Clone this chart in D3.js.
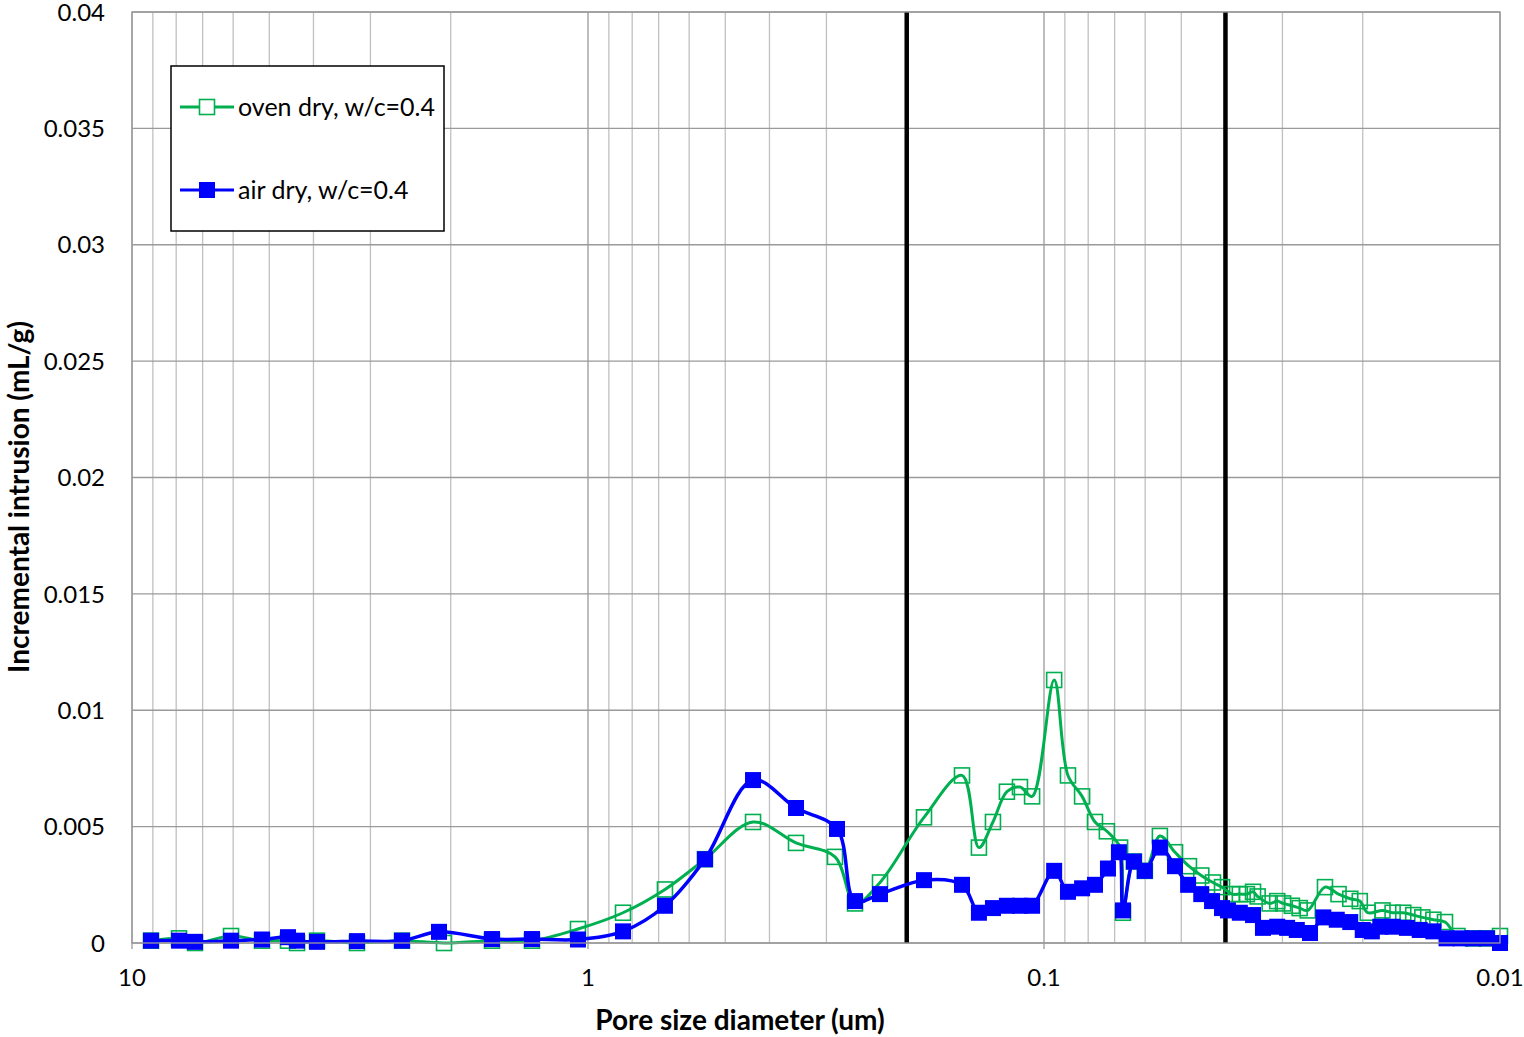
<!DOCTYPE html>
<html>
<head>
<meta charset="utf-8">
<script src="https://cdn.jsdelivr.net/npm/d3@7"></script>
<style>
  html, body { margin: 0; padding: 0; background: #fff; }
  svg { display: block; }
  text { font-family: Lato, "Open Sans", sans-serif; fill: #000; }
</style>
</head>
<body>
<svg id="chart" width="1524" height="1037"></svg>
<script>
// ---------- data ----------
const seriesNames = ["oven dry, w/c=0.4", "air dry, w/c=0.4"];

const ovenDiam = [9.085, 7.886, 7.275, 6.065, 5.187, 4.549, 4.346, 3.929, 3.211, 2.558, 2.069, 1.624, 1.327, 1.052,
  0.838, 0.678, 0.554, 0.4346, 0.3498, 0.2873, 0.2597, 0.2289, 0.1833, 0.1513, 0.1389, 0.1294, 0.1206, 0.1129, 0.1062,
  0.0950, 0.0886, 0.0825, 0.0773, 0.0728, 0.0681, 0.0671, 0.0635, 0.0601, 0.0557, 0.0516, 0.0481, 0.0452, 0.0426,
  0.0407, 0.0387, 0.0372, 0.0359, 0.0348, 0.0340, 0.0320, 0.0308, 0.0299, 0.0286, 0.0275, 0.0264,
  0.0242, 0.0226, 0.0213, 0.0203, 0.0195, 0.0181, 0.0172, 0.0163, 0.0155, 0.0148, 0.0140, 0.0132,
  0.0124, 0.01146, 0.01068, 0.0100];
const ovenVals = [0.0001, 0.0002, 0.0, 0.0003, 0.0001, 0.0001, 0.0, 0.0001, 0.0, 0.0001, 0.0, 0.0001, 0.0001, 0.0006,
  0.0013, 0.0023, 0.0036, 0.0052, 0.0043, 0.0037, 0.0017, 0.0026, 0.0054, 0.0072, 0.0041, 0.0052, 0.0065, 0.0067, 0.0063,
  0.0113, 0.0072, 0.0063, 0.0052, 0.0048, 0.0041, 0.0013, 0.0035, 0.0031, 0.0046, 0.0039, 0.0033, 0.0029, 0.0026,
  0.0024, 0.0021, 0.0021, 0.0021, 0.0022, 0.0020, 0.0017, 0.0018, 0.0017, 0.0016, 0.0015, 0.0014,
  0.0024, 0.0021, 0.0019, 0.0018, 0.0013, 0.0014, 0.0013, 0.0013, 0.0012, 0.0011, 0.0010, 0.0009,
  0.0003, 0.0002, 0.0002, 0.0003];

const airDiam = [9.085, 7.886, 7.275, 6.065, 5.187, 4.549, 4.346, 3.929, 3.211, 2.558, 2.122, 1.624, 1.327, 1.052,
  0.838, 0.678, 0.554, 0.4346, 0.3498, 0.2844, 0.2597, 0.2289, 0.1833, 0.1513, 0.1389, 0.1294, 0.1206, 0.1129, 0.1062,
  0.0950, 0.0886, 0.0825, 0.0773, 0.0724, 0.0685, 0.0671, 0.0635, 0.0601, 0.0557, 0.0516, 0.0483, 0.0452, 0.0428,
  0.0407, 0.0395, 0.0372, 0.0348, 0.0331, 0.0308, 0.0293, 0.0279, 0.0261,
  0.0244, 0.0228, 0.0213, 0.0200, 0.0191, 0.0183, 0.0172, 0.0160, 0.0150, 0.0140, 0.0131,
  0.0122, 0.01146, 0.01068, 0.0100];
const airVals = [0.0001, 0.0001, 0.00005, 0.0001, 0.00015, 0.00025, 0.0001, 0.00005, 0.00008, 0.0001, 0.00048, 0.00017, 0.00017, 0.00015,
  0.0005, 0.0016, 0.0036, 0.0070, 0.0058, 0.0049, 0.0018, 0.0021, 0.0027, 0.0025, 0.0013, 0.0015, 0.0016, 0.0016, 0.0016,
  0.0031, 0.0022, 0.00235, 0.0025, 0.0032, 0.0039, 0.0014, 0.0035, 0.0031, 0.0041, 0.0033, 0.0025, 0.0021, 0.0018,
  0.0015, 0.0014, 0.0013, 0.0012, 0.00065, 0.0007, 0.00065, 0.00056, 0.00043,
  0.0011, 0.0010, 0.0009, 0.00056, 0.0005, 0.0007, 0.0007, 0.00065, 0.00056, 0.0005, 0.0002,
  0.0002, 0.0002, 0.0002, 0.0000];

const yTicks = [0, 0.005, 0.01, 0.015, 0.02, 0.025, 0.03, 0.035, 0.04];
const yTickLabels = ["0", "0.005", "0.01", "0.015", "0.02", "0.025", "0.03", "0.035", "0.04"];
const xTicks = [10, 1, 0.1, 0.01];
const xTickLabels = ["10", "1", "0.1", "0.01"];
const markerLines = [0.2, 0.04];

// ---------- layout ----------
const svg = d3.select("#chart");
const L = 132, R = 1500, T = 12, B = 943;
const x = d3.scaleLog().domain([10, 0.01]).range([L, R]);
const y = d3.scaleLinear().domain([0, 0.04]).range([B, T]);

const green = "#00B050", blue = "#0000FF";

// minor vertical gridlines
const minor = [];
[1, 0.1, 0.01].forEach(dec => { for (let k = 2; k <= 9; k++) minor.push(dec * k); });
svg.append("g").selectAll("line").data(minor).join("line")
  .attr("x1", d => x(d)).attr("x2", d => x(d)).attr("y1", T).attr("y2", B)
  .attr("stroke", "#C0C0C0").attr("stroke-width", 1.3);

// major horizontal gridlines
svg.append("g").selectAll("line").data(yTicks).join("line")
  .attr("x1", L).attr("x2", R).attr("y1", d => y(d)).attr("y2", d => y(d))
  .attr("stroke", "#9A9A9A").attr("stroke-width", 1.3);

// major vertical gridlines
svg.append("g").selectAll("line").data(xTicks).join("line")
  .attr("x1", d => x(d)).attr("x2", d => x(d)).attr("y1", T).attr("y2", B + 6)
  .attr("stroke", "#9A9A9A").attr("stroke-width", 1.3);

// y tick labels
svg.append("g").selectAll("text").data(yTicks).join("text")
  .attr("x", 105).attr("y", d => y(d)).attr("dy", "0.36em")
  .attr("text-anchor", "end").attr("font-size", 24)
  .text((d, i) => yTickLabels[i]);

// x tick labels
svg.append("g").selectAll("text").data(xTicks).join("text")
  .attr("x", d => x(d)).attr("y", 986)
  .attr("text-anchor", "middle").attr("font-size", 24)
  .text((d, i) => xTickLabels[i]);

// axis titles
svg.append("text").attr("x", 740).attr("y", 1030).attr("text-anchor", "middle")
  .attr("font-size", 28).attr("font-weight", "bold").text("Pore size diameter (um)");
svg.append("text").attr("transform", "translate(29,497) rotate(-90)").attr("text-anchor", "middle")
  .attr("font-size", 28).attr("font-weight", "bold").text("Incremental intrusion (mL/g)");

// vertical black lines
svg.append("g").selectAll("line").data(markerLines).join("line")
  .attr("x1", d => x(d)).attr("x2", d => x(d)).attr("y1", T).attr("y2", B)
  .attr("stroke", "#000").attr("stroke-width", 4.5);

// series
const line = d3.line().x(d => x(d[0])).y(d => y(d[1])).curve(d3.curveCatmullRom.alpha(0.5));
const oven = ovenDiam.map((d, i) => [d, ovenVals[i]]);
const air = airDiam.map((d, i) => [d, airVals[i]]);

svg.append("path").datum(oven).attr("d", line).attr("fill", "none")
  .attr("stroke", green).attr("stroke-width", 3);
svg.append("g").selectAll("rect").data(oven).join("rect")
  .attr("x", d => x(d[0]) - 7.5).attr("y", d => y(d[1]) - 7.5)
  .attr("width", 15).attr("height", 15)
  .attr("fill", "none").attr("stroke", green).attr("stroke-width", 1.6);

svg.append("path").datum(air).attr("d", line).attr("fill", "none")
  .attr("stroke", blue).attr("stroke-width", 3.5);
svg.append("g").selectAll("rect").data(air).join("rect")
  .attr("x", d => x(d[0]) - 8).attr("y", d => y(d[1]) - 8)
  .attr("width", 16).attr("height", 16)
  .attr("fill", blue).attr("stroke", "none");

// plot border
svg.append("rect").attr("x", L).attr("y", T).attr("width", R - L).attr("height", B - T)
  .attr("fill", "none").attr("stroke", "#9A9A9A").attr("stroke-width", 1.3);

// legend
const lg = svg.append("g");
lg.append("rect").attr("x", 171).attr("y", 66).attr("width", 273).attr("height", 165)
  .attr("fill", "#fff").attr("stroke", "#000").attr("stroke-width", 1.5);
const legendY = [107, 190];
const legendColors = [green, blue];
seriesNames.forEach((name, i) => {
  const ly = legendY[i];
  lg.append("line").attr("x1", 180).attr("x2", 234).attr("y1", ly).attr("y2", ly)
    .attr("stroke", legendColors[i]).attr("stroke-width", 3);
  if (i === 0) {
    lg.append("rect").attr("x", 199.5).attr("y", ly - 7.5).attr("width", 15).attr("height", 15)
      .attr("fill", "#fff").attr("stroke", green).attr("stroke-width", 1.6);
  } else {
    lg.append("rect").attr("x", 199).attr("y", ly - 8).attr("width", 16).attr("height", 16)
      .attr("fill", blue);
  }
  lg.append("text").attr("x", 238).attr("y", ly).attr("dy", "0.36em")
    .attr("font-size", 25).text(name);
});
</script>
</body>
</html>
